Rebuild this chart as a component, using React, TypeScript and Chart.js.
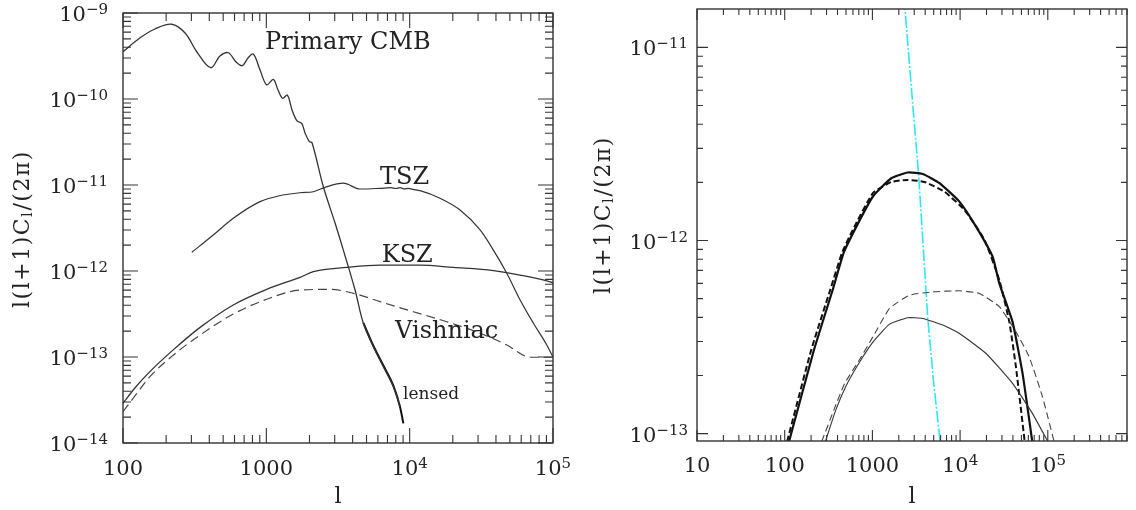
import React, { useEffect, useRef } from "react";
import { Chart, registerables } from "chart.js";
Chart.register(...registerables);

const FONT = '"DejaVu Serif", "Liberation Serif", serif';

// ---------------- Left panel data ----------------
const cmbL = [100, 131, 167, 219, 271, 328, 409, 475, 543, 615, 680, 745, 811, 904, 1006, 1119, 1207, 1300, 1402, 1511, 1638, 1766, 1862, 1996, 2084, 2500, 3016, 3445, 4159, 4753, 5580, 6554, 7695, 8570];
const cmbCl = [3.55e-10, 5.12e-10, 6.52e-10, 7.4e-10, 5.85e-10, 3.52e-10, 2.31e-10, 3.16e-10, 3.45e-10, 2.69e-10, 2.44e-10, 3.0e-10, 3.33e-10, 2.17e-10, 1.46e-10, 1.69e-10, 1.27e-10, 1.02e-10, 1.11e-10, 7.45e-11, 5.55e-11, 5.21e-11, 4.03e-11, 3.19e-11, 3.1e-11, 9.55e-12, 3.61e-12, 1.75e-12, 6.01e-13, 2.47e-13, 1.32e-13, 7.71e-14, 4.52e-14, 2.64e-14];

const lensedL = [4753, 5580, 6554, 7695, 8570, 9036];
const lensedCl = [2.5e-13, 1.35e-13, 7.95e-14, 4.65e-14, 2.62e-14, 1.69e-14];

const tszL = [302, 418, 588, 904, 1213, 1719, 2128, 2568, 3445, 4508, 6216, 7400, 8000, 8570, 9200, 9800, 10500, 11820, 16300, 22470, 31000, 38380, 47600, 58950, 73000, 90500, 100000];
const tszCl = [1.65e-12, 2.55e-12, 4.1e-12, 6.4e-12, 7.45e-12, 8.13e-12, 8.35e-12, 9.4e-12, 1.05e-11, 8.98e-12, 9.15e-12, 9.3e-12, 9.1e-12, 9.3e-12, 9.0e-12, 9.15e-12, 8.9e-12, 8.6e-12, 7.0e-12, 5.12e-12, 3.0e-12, 1.75e-12, 9.4e-13, 4.6e-13, 2.47e-13, 1.38e-13, 1.0e-13];

const kszL = [100, 121, 154, 224, 345, 588, 1006, 1719, 2128, 3640, 6216, 11820, 20180, 38380, 58950, 90500, 100000];
const kszCl = [2.9e-14, 4.36e-14, 6.76e-14, 1.21e-13, 2.21e-13, 4.03e-13, 6.12e-13, 8.45e-13, 9.82e-13, 1.10e-12, 1.17e-12, 1.17e-12, 1.10e-12, 1.01e-12, 8.97e-13, 7.7e-13, 7.3e-13];

const vishL = [100, 121, 154, 224, 345, 588, 1006, 1719, 2783, 4047, 6216, 10610, 18160, 31000, 47600, 69660, 100000];
const vishCl = [2.31e-14, 3.52e-14, 5.9e-14, 1.05e-13, 1.80e-13, 3.16e-13, 4.69e-13, 6.0e-13, 6.12e-13, 5.5e-13, 4.4e-13, 3.36e-13, 2.57e-13, 1.89e-13, 1.38e-13, 9.93e-14, 9.93e-14];

const leftXTicks = [100, 1000, 1e4, 1e5];
const leftXLabels = ["100", "1000", "10^4", "10^5"];
const leftYTicks = [1e-9, 1e-10, 1e-11, 1e-12, 1e-13, 1e-14];
const leftYLabels = ["10^−9", "10^−10", "10^−11", "10^−12", "10^−13", "10^−14"];

const leftNotes = ["Primary CMB", "TSZ", "KSZ", "Vishniac", "lensed"];
const leftNoteL = [979, 6216, 6385, 7910, 8995];
const leftNoteCl = [4.48e-10, 1.2e-11, 1.49e-12, 1.95e-13, 3.61e-14];

// ---------------- Right panel data ----------------
const thickSolidL = [112, 215, 352, 470, 656, 1013, 1641, 2535, 3754, 5813, 9817, 15200, 23490, 28000, 39630, 51540, 66500];
const thickSolidCl = [9.1e-14, 2.70e-13, 5.54e-13, 8.63e-13, 1.18e-12, 1.69e-12, 2.10e-12, 2.25e-12, 2.21e-12, 1.98e-12, 1.59e-12, 1.18e-12, 8.24e-13, 6.0e-13, 3.79e-13, 2.05e-13, 9.1e-14];

const thickDashL = [106.5, 200, 330, 450, 595, 1013, 1641, 2535, 3926, 6628, 11200, 18900, 28000, 36390, 43350, 54500];
const thickDashCl = [9.1e-14, 2.70e-13, 5.54e-13, 8.63e-13, 1.13e-12, 1.76e-12, 2.01e-12, 2.06e-12, 2.01e-12, 1.79e-12, 1.44e-12, 1.01e-12, 6.24e-13, 3.79e-13, 2.21e-13, 9.1e-14];

const thinSolidL = [291, 381, 505, 715, 1013, 1569, 2535, 3754, 6340, 9817, 19770, 39630, 66990, 100000];
const thinSolidCl = [9.1e-14, 1.32e-13, 1.78e-13, 2.35e-13, 2.98e-13, 3.69e-13, 3.98e-13, 3.95e-13, 3.65e-13, 3.30e-13, 2.60e-13, 1.82e-13, 1.27e-13, 9.1e-14];

const thinDashL = [264, 362, 483, 715, 1013, 1569, 2650, 4879, 9817, 16580, 28000, 43350, 61440, 87000, 118000];
const thinDashCl = [9.1e-14, 1.32e-13, 1.82e-13, 2.42e-13, 3.17e-13, 4.45e-13, 5.21e-13, 5.42e-13, 5.49e-13, 5.32e-13, 4.54e-13, 3.37e-13, 2.49e-13, 1.55e-13, 9.1e-14];

const cyanL = [2300, 2793, 3355, 4280, 4966, 5922];
const cyanCl = [1.8e-11, 6.04e-12, 2.24e-12, 3.96e-13, 1.89e-13, 9.1e-14];

const rightXTicks = [10, 100, 1000, 1e4, 1e5];
const rightXLabels = ["10", "100", "1000", "10^4", "10^5"];
const rightYTicks = [1e-11, 1e-12, 1e-13];
const rightYLabels = ["10^−11", "10^−12", "10^−13"];

// ---------------- helpers ----------------
type Cfg = {
  xTicks: number[]; xLabels: string[]; yTicks: number[]; yLabels: string[];
  majorLen: number; minorLen: number; yLabelGap: number; xLabelDrop: number;
  yTitleX: number; yTitleY: number; xTitleY: number;
  notes?: string[]; noteL?: number[]; noteCl?: number[];
};

function line(xs: number[], ys: number[], color: string, width: number, dash: number[] = [], mode = "monotone", tension = 0.4) {
  return {
    data: xs.map((x, i) => ({ x, y: ys[i] })),
    borderColor: color,
    borderWidth: width,
    borderDash: dash,
    pointRadius: 0,
    fill: false,
    tension,
    cubicInterpolationMode: mode,
  };
}

function drawPow(ctx: CanvasRenderingContext2D, label: string, x: number, y: number, align: string) {
  const [b, e] = label.split("^");
  ctx.font = `21px ${FONT}`;
  const wb = ctx.measureText(b).width;
  let we = 0;
  if (e) { ctx.font = `15px ${FONT}`; we = ctx.measureText(e).width; }
  const total = wb + we;
  const x0 = align === "center" ? x - total / 2 : align === "right" ? x - total : x;
  ctx.textAlign = "left";
  ctx.textBaseline = "alphabetic";
  ctx.font = `21px ${FONT}`;
  ctx.fillText(b, x0, y);
  if (e) { ctx.font = `15px ${FONT}`; ctx.fillText(e, x0 + wb, y - 7); }
}

function tickList(min: number, max: number) {
  const out: { v: number; major: boolean }[] = [];
  for (let d = Math.floor(Math.log10(min)); d <= Math.ceil(Math.log10(max)); d++) {
    for (let m = 1; m <= 9; m++) {
      const v = m * Math.pow(10, d);
      if (v >= min * 0.9999 && v <= max * 1.0001) out.push({ v, major: m === 1 });
    }
  }
  return out;
}

function axisPlugin(cfg: Cfg) {
  return {
    id: "frameAxes",
    afterDraw(chart: any) {
      const ctx: CanvasRenderingContext2D = chart.ctx;
      const a = chart.chartArea;
      const xs = chart.scales.x, ys = chart.scales.y;
      ctx.save();
      ctx.strokeStyle = "#333";
      ctx.lineWidth = 1.4;
      ctx.strokeRect(a.left, a.top, a.right - a.left, a.bottom - a.top);
      ctx.lineWidth = 1.1;
      ctx.beginPath();
      for (const t of tickList(xs.min, xs.max)) {
        const p = xs.getPixelForValue(t.v);
        const len = t.major ? cfg.majorLen : cfg.minorLen;
        ctx.moveTo(p, a.bottom); ctx.lineTo(p, a.bottom - len);
        ctx.moveTo(p, a.top); ctx.lineTo(p, a.top + len);
      }
      for (const t of tickList(ys.min, ys.max)) {
        const p = ys.getPixelForValue(t.v);
        const len = t.major ? cfg.majorLen : cfg.minorLen;
        ctx.moveTo(a.left, p); ctx.lineTo(a.left + len, p);
        ctx.moveTo(a.right, p); ctx.lineTo(a.right - len, p);
      }
      ctx.stroke();

      ctx.fillStyle = "#222";
      cfg.xTicks.forEach((v, i) => drawPow(ctx, cfg.xLabels[i], xs.getPixelForValue(v), a.bottom + cfg.xLabelDrop, "center"));
      cfg.yTicks.forEach((v, i) => drawPow(ctx, cfg.yLabels[i], a.left - cfg.yLabelGap, ys.getPixelForValue(v) + 8, "right"));

      // x title
      ctx.font = `22px ${FONT}`;
      ctx.textAlign = "center";
      ctx.textBaseline = "middle";
      ctx.fillText("l", (a.left + a.right) / 2, cfg.xTitleY);

      // y title with subscript
      ctx.save();
      ctx.translate(cfg.yTitleX, cfg.yTitleY);
      ctx.rotate(-Math.PI / 2);
      (ctx as any).letterSpacing = "1.5px";
      const parts: [string, number, number][] = [["l(l+1)C", 22, 0], ["l", 15, 5], ["/(2π)", 22, 0]];
      let total = 0;
      for (const [s, sz] of parts) { ctx.font = `${sz}px ${FONT}`; total += ctx.measureText(s).width; }
      let x = -total / 2;
      ctx.textAlign = "left";
      ctx.textBaseline = "middle";
      for (const [s, sz, dy] of parts) {
        ctx.font = `${sz}px ${FONT}`;
        ctx.fillText(s, x, dy);
        x += ctx.measureText(s).width;
      }
      ctx.restore();

      // annotations
      if (cfg.notes) {
        ctx.textAlign = "left";
        ctx.textBaseline = "middle";
        cfg.notes.forEach((n, i) => {
          ctx.font = n === "lensed" ? `17px ${FONT}` : `24px ${FONT}`;
          ctx.fillText(n, xs.getPixelForValue(cfg.noteL![i]), ys.getPixelForValue(cfg.noteCl![i]));
        });
      }
      ctx.restore();
    },
  };
}

function makeChart(canvas: HTMLCanvasElement, datasets: any[], xr: number[], yr: number[], padding: any, cfg: Cfg) {
  return new Chart(canvas, {
    type: "line",
    data: { datasets },
    options: {
      animation: false,
      responsive: false,
      maintainAspectRatio: false,
      events: [],
      layout: { padding },
      plugins: { legend: { display: false }, tooltip: { enabled: false } },
      scales: {
        x: { type: "logarithmic", min: xr[0], max: xr[1], display: false },
        y: { type: "logarithmic", min: yr[0], max: yr[1], display: false },
      },
    } as any,
    plugins: [axisPlugin(cfg)],
  } as any);
}

export default function App() {
  const leftRef = useRef<HTMLCanvasElement>(null);
  const rightRef = useRef<HTMLCanvasElement>(null);

  useEffect(() => {
    const c1 = makeChart(
      leftRef.current!,
      [
        line(cmbL, cmbCl, "#333", 1.3, [], "default", 0.35),
        line(lensedL, lensedCl, "#111", 2.0),
        line(tszL, tszCl, "#333", 1.2),
        line(kszL, kszCl, "#333", 1.3),
        line(vishL, vishCl, "#444", 1.2, [9, 5]),
      ],
      [100, 1e5],
      [1e-14, 1e-9],
      { left: 123, right: 47, top: 13, bottom: 67 },
      {
        xTicks: leftXTicks, xLabels: leftXLabels, yTicks: leftYTicks, yLabels: leftYLabels,
        majorLen: 15, minorLen: 8, yLabelGap: 15, xLabelDrop: 32,
        yTitleX: 23, yTitleY: 229, xTitleY: 497,
        notes: leftNotes, noteL: leftNoteL, noteCl: leftNoteCl,
      }
    );
    const c2 = makeChart(
      rightRef.current!,
      [
        line(thinSolidL, thinSolidCl, "#333", 1.1, [], "default", 0.15),
        line(thinDashL, thinDashCl, "#444", 1.1, [7, 4], "default", 0.15),
        line(thickSolidL, thickSolidCl, "#111", 2.2, [], "default", 0.15),
        line(thickDashL, thickDashCl, "#111", 2.0, [6, 3], "default", 0.15),
        line(cyanL, cyanCl, "#2fe6f2", 1.6, [12, 2, 2, 2], "default", 0),
      ],
      [10, 8e5],
      [9.16e-14, 1.58e-11],
      { left: 129, right: 9, top: 9, bottom: 69 },
      {
        xTicks: rightXTicks, xLabels: rightXLabels, yTicks: rightYTicks, yLabels: rightYLabels,
        majorLen: 11, minorLen: 6, yLabelGap: 9, xLabelDrop: 31,
        yTitleX: 36, yTitleY: 215, xTitleY: 497,
      }
    );
    return () => { c1.destroy(); c2.destroy(); };
  }, []);

  return (
    <div style={{ position: "absolute", left: 0, top: 0, width: 1136, height: 510, background: "#fff" }}>
      <canvas ref={leftRef} width={600} height={510} style={{ position: "absolute", left: 0, top: 0, width: 600, height: 510 }} />
      <canvas ref={rightRef} width={568} height={510} style={{ position: "absolute", left: 568, top: 0, width: 568, height: 510 }} />
    </div>
  );
}
